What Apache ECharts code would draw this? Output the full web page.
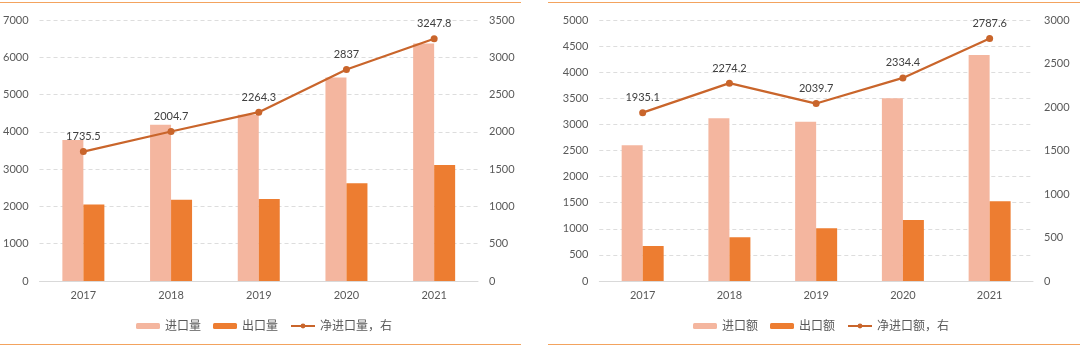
<!DOCTYPE html>
<html><head><meta charset="utf-8">
<script src="https://cdn.jsdelivr.net/npm/echarts@6/dist/echarts.min.js"></script>
<style>
html,body{margin:0;padding:0;background:#fff;}
#c{width:1080px;height:348px;position:absolute;left:0;top:0;}
.ln{position:absolute;height:0;border-top:1.5px solid #F3A35E;}
</style></head>
<body>
<div id="c"></div>
<div class="ln" style="left:0;width:521px;top:1.5px"></div>
<div class="ln" style="left:548px;width:532px;top:1.5px"></div>
<div class="ln" style="left:0;width:521px;top:343.5px"></div>
<div class="ln" style="left:548px;width:532px;top:343.5px"></div>
<script>
const years = ['2017','2018','2019','2020','2021'];
// left chart: volume
const importVol = [3780, 4190, 4460, 5460, 6370];
const exportVol = [2050, 2180, 2200, 2620, 3110];
const netVol = [1735.5, 2004.7, 2264.3, 2837, 3247.8];
// right chart: value
const importVal = [2600, 3120, 3050, 3500, 4330];
const exportVal = [670, 840, 1010, 1170, 1530];
const netVal = [1935.1, 2274.2, 2039.7, 2334.4, 2787.6];
const namesL = ['进口量','出口量','净进口量，右'];
const namesR = ['进口额','出口额','净进口额，右'];

const FONT = "Lato, 'Noto Sans CJK SC', sans-serif";
const C_LIGHT = '#F4B69F', C_DARK = '#ED7D31', C_LINE = '#C9652B';
const TXT = '#595959';

function yAxis(gi, max, interval, pos, split){
  return {type:'value', gridIndex:gi, min:0, max:max, interval:interval, position:pos,
    axisLine:{show:false}, axisTick:{show:false},
    axisLabel:{color:TXT, fontSize:11, fontFamily:FONT, margin:11, formatter:function(v){return String(v);}},
    splitLine:{show:split, lineStyle:{color:'#DDDDDD', type:[4,3], width:1}}};
}
function xAxis(gi){
  return {type:'category', gridIndex:gi, data:years,
    axisLine:{show:true, lineStyle:{color:'#D9D9D9', width:1}}, axisTick:{show:false},
    axisLabel:{color:TXT, fontSize:11, fontFamily:FONT, margin:9}};
}
function bars(name, data, color, xi, yi){
  return {name:name, type:'bar', xAxisIndex:xi, yAxisIndex:yi, data:data,
    barWidth:21, barGap:'0%', itemStyle:{color:color}, z:2};
}
function line(name, data, xi, yi){
  return {name:name, type:'line', xAxisIndex:xi, yAxisIndex:yi, data:data,
    symbol:'circle', symbolSize:7, lineStyle:{color:C_LINE, width:2.25},
    itemStyle:{color:C_LINE}, z:5,
    label:{show:true, position:'top', distance:6, color:'#404040', fontSize:11, fontFamily:FONT,
      formatter:function(p){return String(p.value);}}};
}
function legend(names, left){
  return {data:names, left:left, top:315, itemWidth:24, itemHeight:6, itemGap:12,
    textStyle:{color:TXT, fontSize:12, fontFamily:FONT}};
}
const chart = echarts.init(document.getElementById('c'), null, {renderer:'canvas'});
chart.setOption({
  animation:false,
  grid:[{left:39.5, top:20, width:438.5, height:261},
        {left:599.3, top:20, width:433.7, height:261}],
  xAxis:[xAxis(0), xAxis(1)],
  yAxis:[yAxis(0,7000,1000,'left',true), yAxis(0,3500,500,'right',false),
         yAxis(1,5000,500,'left',true), yAxis(1,3000,500,'right',false)],
  legend:[legend(namesL, 131), legend(namesR, 688)],
  series:[
    bars(namesL[0], importVol, C_LIGHT, 0, 0),
    bars(namesL[1], exportVol, C_DARK, 0, 0),
    line(namesL[2], netVol, 0, 1),
    bars(namesR[0], importVal, C_LIGHT, 1, 2),
    bars(namesR[1], exportVal, C_DARK, 1, 2),
    line(namesR[2], netVal, 1, 3)
  ]
});
</script>
</body></html>
